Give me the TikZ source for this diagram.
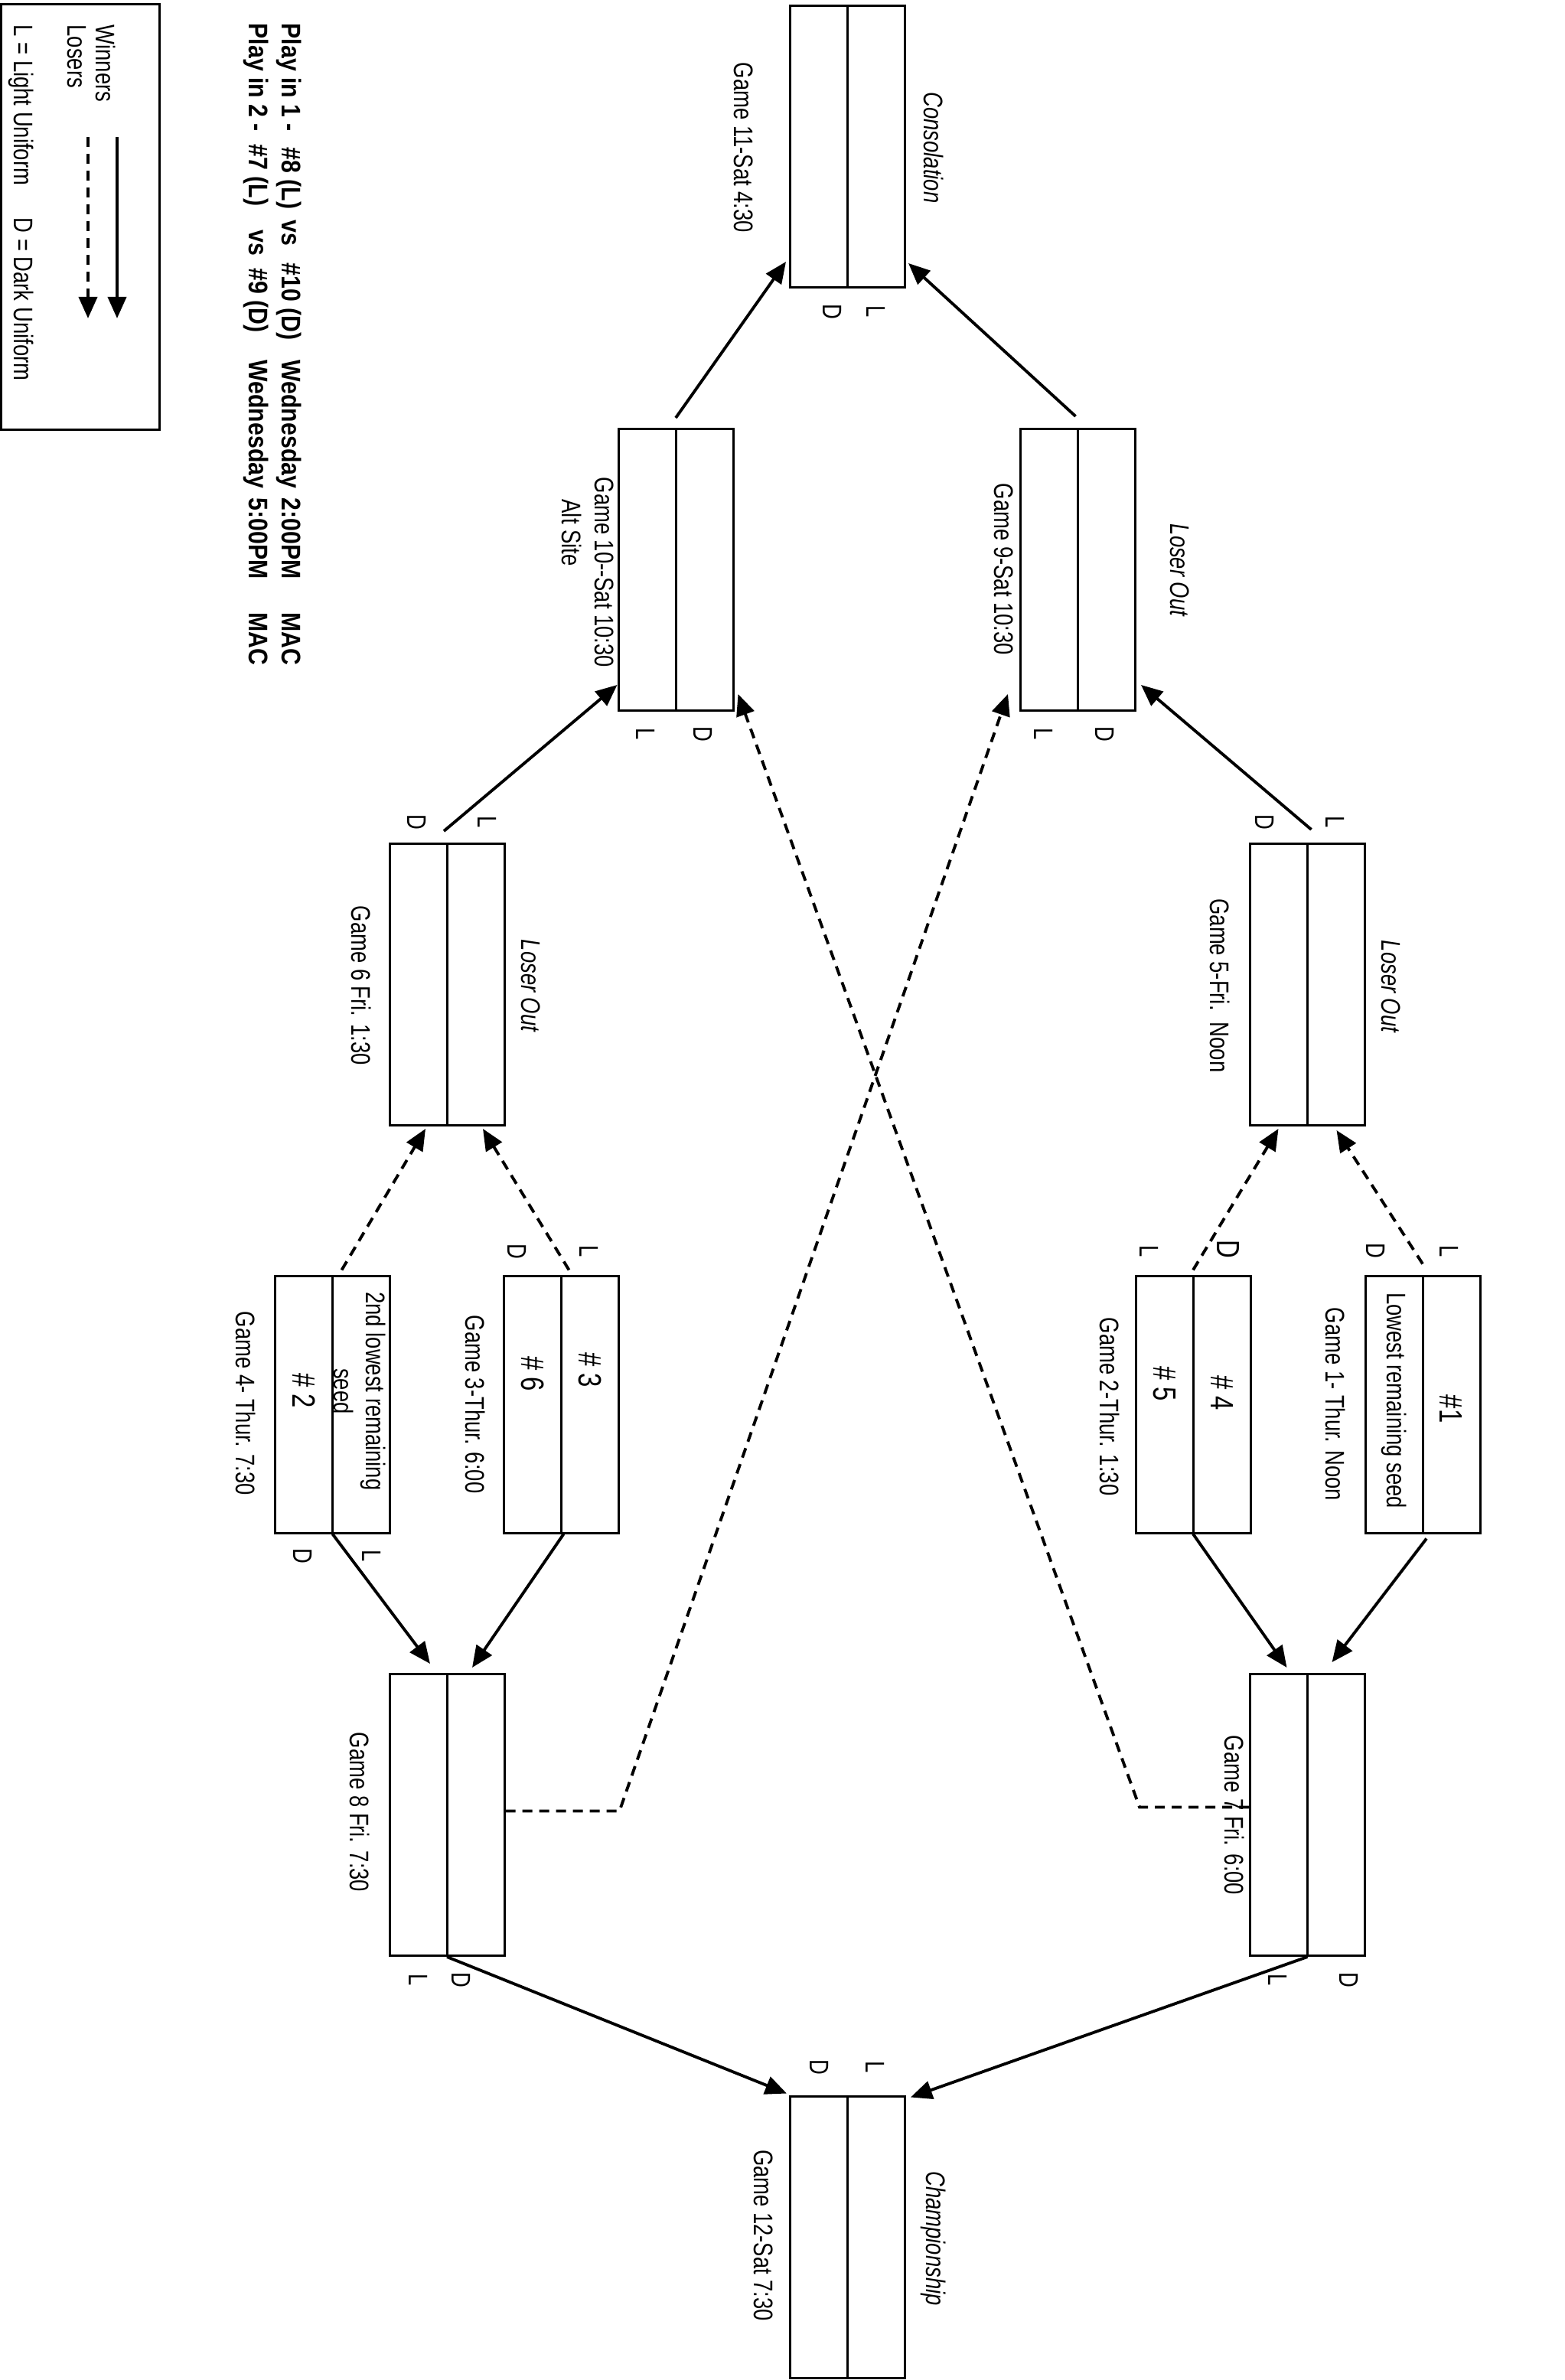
\documentclass[tikz,border=0pt]{standalone}
\usepackage{fontspec}
\setmainfont[FakeStretch=0.78]{Liberation Sans}
\newfontfamily\playfont[FakeStretch=0.86]{Liberation Sans}
\usetikzlibrary{arrows.meta,calc}

\begin{document}
\begin{tikzpicture}[
    game/.style={rectangle, draw, line width=0.85pt, minimum width=1.5cm, minimum height=3.68cm, inner sep=0pt,
        path picture={\draw[line width=0.85pt] (path picture bounding box.north) -- (path picture bounding box.south);}},
    firstgame/.style={game, minimum height=3.36cm},
    caption/.style={rotate=-90, inner sep=0pt, font=\fontsize{10}{12}\selectfont},
    note/.style={caption, font=\fontsize{10}{12}\selectfont\itshape},
    seed/.style={caption, font=\fontsize{12}{14}\selectfont},
    uniform/.style={caption},
    playin/.style={caption, anchor=west, font=\playfont\bfseries\fontsize{10}{12}\selectfont},
    arrow/.style={-{Triangle[length=2.8mm, width=2.4mm]}, line width=1.1pt},
    dashedarrow/.style={arrow, dash pattern=on 1.3mm off 0.9mm}
]
\useasboundingbox (0,0) rectangle (20.44,-31.10);

% Legend
\node[draw, line width=0.85pt, minimum width=2.07cm, minimum height=5.56cm, inner sep=0pt] (legend) at (1.05,-2.84) {};
\node[caption, anchor=west] (winners) at (1.38,-0.32) {Winners};
\node[caption, anchor=west] (losers) at (1.00,-0.32) {Losers};
\coordinate (winstart) at (1.53,-1.79);
\coordinate (winend) at (1.53,-4.16);
\coordinate (losestart) at (1.15,-1.79);
\coordinate (loseend) at (1.15,-4.16);
\draw[arrow] (winstart) -- (winend);
\draw[dashedarrow] (losestart) -- (loseend);
\node[caption, anchor=west] (uniforms) at (0.28,-0.32) {L = Light Uniform\hspace{0.35cm} D = Dark Uniform};

% Play in games
\node[playin] (playin1) at (3.78,-0.30)
    {\makebox[1.62cm][l]{Play in 1 -}\makebox[0.95cm][l]{\#8 (L)}\makebox[0.56cm][l]{vs}\makebox[1.27cm][l]{\#10 (D)}\makebox[1.80cm][l]{Wednesday}\makebox[1.50cm][l]{2:00PM}MAC};
\node[playin] (playin2) at (3.35,-0.30)
    {\makebox[1.58cm][l]{Play in 2 -}\makebox[1.12cm][l]{\#7 (L)}\makebox[0.50cm][l]{vs}\makebox[1.20cm][l]{\#9 (D)}\makebox[1.80cm][l]{Wednesday}\makebox[1.50cm][l]{5:00PM}MAC};

% Games
\node[game] (g11) at (11.075,-1.915) {};
\node[game] (g9) at (14.085,-7.445) {};
\node[game] (g10) at (8.83,-7.445) {};
\node[game] (g5) at (17.085,-12.865) {};
\node[game] (g6) at (5.84,-12.865) {};
\node[firstgame] (g1) at (18.59,-18.35) {};
\node[firstgame] (g2) at (15.59,-18.35) {};
\node[firstgame] (g3) at (7.335,-18.35) {};
\node[firstgame] (g4) at (4.345,-18.35) {};
\node[game] (g7) at (17.085,-23.715) {};
\node[game] (g8) at (5.84,-23.715) {};
\node[game] (g12) at (11.075,-29.23) {};

% Game 11
\node[caption] (g11name) at (9.72,-1.93) {Game 11-Sat 4:30};
\node[note] (g11note) at (12.2,-1.93) {Consolation};
\node[uniform] (g11L) at (11.45,-4.07) {L};
\node[uniform] (g11D) at (10.88,-4.07) {D};

% Game 9 and Game 10
\node[caption] (g9name) at (13.12,-7.44) {Game 9-Sat 10:30};
\node[note] (g9note) at (15.42,-7.45) {Loser Out};
\node[uniform] (g9L) at (13.64,-9.59) {L};
\node[uniform] (g9D) at (14.44,-9.59) {D};
\node[caption, align=left, anchor=west] (g10name) at (7.68,-6.23) {Game 10-{}-Sat 10:30\\\hspace*{0.29cm}Alt Site};
\node[uniform] (g10L) at (8.44,-9.59) {L};
\node[uniform] (g10D) at (9.19,-9.59) {D};

% Game 5 and Game 6
\node[caption] (g5name) at (15.94,-12.88) {Game 5-Fri.\ \ Noon};
\node[note] (g5note) at (18.18,-12.89) {Loser Out};
\node[uniform] (g5D) at (16.53,-10.74) {D};
\node[uniform] (g5L) at (17.45,-10.74) {L};
\node[caption] (g6name) at (4.72,-12.88) {Game 6 Fri. 1:30};
\node[note] (g6note) at (6.94,-12.88) {Loser Out};
\node[uniform] (g6D) at (5.45,-10.74) {D};
\node[uniform] (g6L) at (6.37,-10.74) {L};

% First round
\node[caption] (g1name) at (17.45,-18.35) {Game 1- Thur. Noon};
\node[seed] (g1top) at (18.96,-18.41) {\#1};
\node[caption] (g1bottom) at (18.22,-18.30) {Lowest remaining seed};
\node[uniform] (g1D) at (17.98,-16.34) {D};
\node[uniform] (g1L) at (18.94,-16.35) {L};

\node[caption] (g2name) at (14.50,-18.38) {Game 2-Thur. 1:30};
\node[seed] (g2top) at (15.97,-18.20) {\# 4};
\node[seed] (g2bottom) at (15.22,-18.08) {\# 5};
\node[uniform] (g2L) at (15.02,-16.35) {L};
\node[seed] (g2D) at (16.05,-16.32) {D};

\node[caption] (g3name) at (6.21,-18.35) {Game 3-Thur. 6:00};
\node[seed] (g3top) at (7.715,-17.90) {\# 3};
\node[seed] (g3bottom) at (6.96,-17.95) {\# 6};
\node[uniform] (g3D) at (6.76,-16.35) {D};
\node[uniform] (g3L) at (7.70,-16.35) {L};

\node[caption] (g4name) at (3.21,-18.34) {Game 4- Thur. 7:30};
\node[caption, align=center] (g4top) at (4.70,-18.18) {2nd lowest remaining\\seed};
\node[seed] (g4bottom) at (3.97,-18.17) {\# 2};
\node[uniform] (g4D) at (3.96,-20.33) {D};
\node[uniform] (g4L) at (4.86,-20.33) {L};

% Game 7 and Game 8
\node[caption] (g7name) at (16.13,-23.72) {Game 7 Fri. 6:00};
\node[uniform] (g7L) at (16.70,-25.87) {L};
\node[uniform] (g7D) at (17.63,-25.87) {D};
\node[caption] (g8name) at (4.70,-23.68) {Game 8 Fri. 7:30};
\node[uniform] (g8L) at (5.47,-25.87) {L};
\node[uniform] (g8D) at (6.03,-25.87) {D};

% Game 12
\node[caption] (g12name) at (9.98,-29.21) {Game 12-Sat 7:30};
\node[note] (g12note) at (12.2,-29.25) {Championship};
\node[uniform] (g12D) at (10.71,-27.01) {D};
\node[uniform] (g12L) at (11.44,-27.01) {L};

% Winners
\draw[arrow] ($(g9.north)+(-0.03,0.15)$) -- ($(g11.south east)+(0.03,0.33)$);
\draw[arrow] ($(g10.north)+(0,0.13)$) -- ($(g11.south west)+(-0.04,0.35)$);
\draw[arrow] ($(g5.north)+(0.05,0.17)$) -- ($(g9.south east)+(0.06,0.35)$);
\draw[arrow] ($(g6.north)+(-0.04,0.15)$) -- ($(g10.south west)+(0,0.35)$);
\draw[arrow] ($(g1.south)+(0.05,-0.06)$) -- ($(g7.north)+(0.32,0.14)$);
\draw[arrow] (g2.south) -- ($(g7.north)+(-0.27,0.07)$);
\draw[arrow] ($(g3.south)+(0.03,0)$) -- ($(g8.north)+(0.33,0.07)$);
\draw[arrow] (g4.south) -- ($(g8.north)+(-0.22,0.12)$);
\draw[arrow] (g7.south) -- ($(g12.north east)+(0.06,-0.03)$);
\draw[arrow] (g8.south) -- ($(g12.north west)+(-0.03,0.02)$);

% Losers
\draw[dashedarrow] ($(g1.north)+(0,0.14)$) -- ($(g5.south)+(0.38,-0.05)$);
\draw[dashedarrow] ($(g2.north)+(0,0.06)$) -- ($(g5.south)+(-0.38,-0.03)$);
\draw[dashedarrow] ($(g3.north)+(0.1,0.06)$) -- ($(g6.south)+(0.47,-0.03)$);
\draw[dashedarrow] ($(g4.north)+(0.12,0.06)$) -- ($(g6.south)+(-0.28,-0.03)$);
\draw[dashedarrow] ($(g7.west)+(0,0.1)$) -- ++(-1.43,0) -- ($(g10.south east)+(0.05,0.23)$);
\draw[dashedarrow] ($(g8.east)+(0,0.05)$) -- ++(1.49,0) -- ($(g9.south west)+(-0.15,0.23)$);

\end{tikzpicture}
\end{document}
